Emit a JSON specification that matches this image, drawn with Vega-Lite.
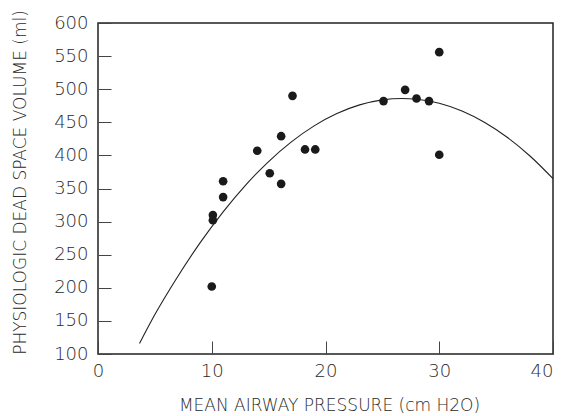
{
  "$schema": "https://vega.github.io/schema/vega-lite/v6.json",
  "autosize": "none",
  "padding": {"left": 98, "top": 23, "right": 8, "bottom": 62},
  "width": 455,
  "height": 331,
  "background": "white",
  "config": {
    "view": {"stroke": "#222", "strokeWidth": 1.5},
    "axis": {
      "labelFont": "DejaVu Sans",
      "titleFont": "DejaVu Sans",
      "labelFontWeight": 200,
      "titleFontWeight": 200,
      "labelFontSize": 18,
      "titleFontSize": 17,
      "labelColor": "#2a2a2a",
      "titleColor": "#2a2a2a",
      "tickColor": "#444",
      "tickWidth": 1,
      "domain": false,
      "grid": false,
      "labelOverlap": false
    }
  },
  "datasets": {
    "points": [
      {"pressure": 10.0, "volume": 202},
      {"pressure": 10.1, "volume": 310},
      {"pressure": 10.1, "volume": 302},
      {"pressure": 11.0, "volume": 337},
      {"pressure": 11.0, "volume": 361},
      {"pressure": 14.0, "volume": 407},
      {"pressure": 15.1, "volume": 373},
      {"pressure": 16.1, "volume": 357},
      {"pressure": 16.1, "volume": 429},
      {"pressure": 17.1, "volume": 490},
      {"pressure": 18.2, "volume": 409},
      {"pressure": 19.1, "volume": 409},
      {"pressure": 25.1, "volume": 482},
      {"pressure": 27.0, "volume": 499},
      {"pressure": 28.0, "volume": 486},
      {"pressure": 29.1, "volume": 482},
      {"pressure": 30.0, "volume": 556},
      {"pressure": 30.0, "volume": 401}
    ],
    "curve": [
      {"pressure": 3.65, "volume": 116},
      {"pressure": 5, "volume": 159.6},
      {"pressure": 7, "volume": 216.8},
      {"pressure": 9, "volume": 268.6},
      {"pressure": 11, "volume": 314.8},
      {"pressure": 13, "volume": 355.6},
      {"pressure": 15, "volume": 390.7},
      {"pressure": 17, "volume": 420.4},
      {"pressure": 19, "volume": 444.6},
      {"pressure": 21, "volume": 463.2},
      {"pressure": 23, "volume": 476.3},
      {"pressure": 25, "volume": 483.9},
      {"pressure": 26.75, "volume": 486},
      {"pressure": 28, "volume": 484.9},
      {"pressure": 30, "volume": 478.7},
      {"pressure": 32, "volume": 467.0},
      {"pressure": 34, "volume": 449.7},
      {"pressure": 36, "volume": 427.0},
      {"pressure": 38, "volume": 398.7},
      {"pressure": 40, "volume": 364.9}
    ]
  },
  "encoding": {
    "x": {
      "field": "pressure", "type": "quantitative",
      "scale": {"domain": [0, 40], "nice": false, "zero": false},
      "axis": {
        "values": [0, 10, 20, 30, 40], "tickSize": -13, "labelPadding": 21,
        "labelAlign": {"condition": {"test": "datum.value == 40", "value": "right"}, "value": "center"},
        "title": "MEAN AIRWAY PRESSURE (cm H2O)", "titlePadding": 17, "titleX": 231
      }
    },
    "y": {
      "field": "volume", "type": "quantitative",
      "scale": {"domain": [100, 600], "nice": false, "zero": false},
      "axis": {
        "values": [100, 150, 200, 250, 300, 350, 400, 450, 500, 550, 600],
        "tickSize": -13, "labelPadding": 23,
        "title": "PHYSIOLOGIC DEAD SPACE VOLUME (ml)", "titlePadding": 24, "titleY": 159
      }
    }
  },
  "layer": [
    {
      "data": {"name": "curve"},
      "mark": {"type": "line", "color": "#222", "strokeWidth": 1.1, "interpolate": "monotone", "clip": true}
    },
    {
      "data": {"name": "points"},
      "mark": {"type": "circle", "color": "#1a1a1a", "size": 75, "opacity": 1}
    }
  ]
}
